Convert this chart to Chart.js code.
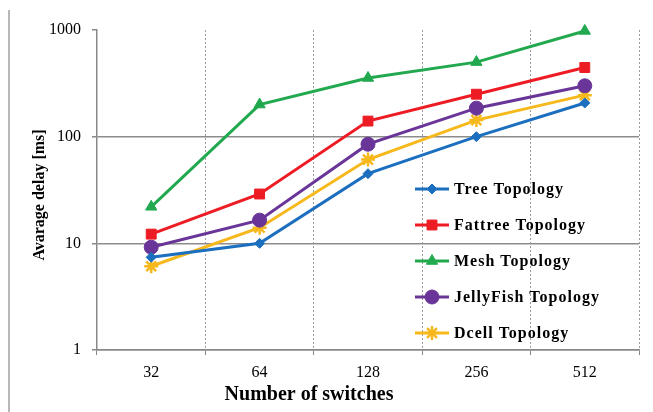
<!DOCTYPE html>
<html>
<head>
<meta charset="utf-8">
<script src="https://cdn.jsdelivr.net/npm/chart.js@4.4.0/dist/chart.umd.min.js"></script>
<style>
  html, body { margin: 0; padding: 0; background: #fff; }
  #wrap { position: relative; width: 653px; height: 412px; }
</style>
</head>
<body>
<div id="wrap"><canvas id="chart" width="653" height="412"></canvas></div>
<script>
// data
const switches = ['32', '64', '128', '256', '512'];
const treeDelay = [7.4, 10, 45, 100, 207];
const fattreeDelay = [12.2, 29, 140, 250, 445];
const meshDelay = [22, 200, 355, 500, 980];
const jellyfishDelay = [9.2, 16.5, 85, 185, 300];
const dcellDelay = [6.1, 14, 61, 143, 245];
const yTicks = [1, 10, 100, 1000];

const serif = "'Liberation Serif', 'Times New Roman', serif";

function series(label, data, color, style, radius) {
    return {
        label: label,
        data: data,
        borderColor: color,
        backgroundColor: color,
        pointBackgroundColor: color,
        pointBorderColor: color,
        pointStyle: style,
        pointRadius: radius,
        pointHoverRadius: radius,
        pointBorderWidth: style === 'star' ? 2.5 : 1,
        borderWidth: 3,
        tension: 0,
        clip: false
    };
}

// legend drawn inside the plot, plus axis titles and the left frame line
const extras = {
    id: 'extras',
    afterDraw(chart) {
        const ctx = chart.ctx;
        ctx.save();
        // frame line at left
        ctx.strokeStyle = '#a0a0a0';
        ctx.lineWidth = 1.5;
        ctx.beginPath();
        ctx.moveTo(9, 10);
        ctx.lineTo(9, 412);
        ctx.stroke();

        // axis titles
        ctx.fillStyle = '#000';
        ctx.font = 'bold 20px ' + serif;
        ctx.textAlign = 'center';
        ctx.textBaseline = 'middle';
        ctx.fillText('Number of switches', 309, 395);

        ctx.save();
        ctx.translate(40, 195);
        ctx.rotate(-Math.PI / 2);
        ctx.font = 'bold 16px ' + serif;
        ctx.fillText('Avarage delay [ms]', 0, 0);
        ctx.restore();

        // legend
        const x0 = 415, x1 = 449, rowTop = 189, rowGap = 36;
        chart.data.datasets.forEach((ds, i) => {
            const y = rowTop + i * rowGap;
            ctx.strokeStyle = ds.borderColor;
            ctx.lineWidth = 3;
            ctx.beginPath();
            ctx.moveTo(x0, y);
            ctx.lineTo(x1, y);
            ctx.stroke();
            ctx.fillStyle = ds.pointBackgroundColor;
            ctx.strokeStyle = ds.pointBorderColor;
            ctx.lineWidth = ds.pointBorderWidth;
            Chart.helpers.drawPoint(ctx, {
                pointStyle: ds.pointStyle,
                radius: ds.pointRadius,
                borderWidth: ds.pointBorderWidth,
                rotation: 0
            }, (x0 + x1) / 2, y);
            ctx.fillStyle = '#000';
            ctx.font = 'bold 16px ' + serif;
            ctx.letterSpacing = '1px';
            ctx.textAlign = 'left';
            ctx.textBaseline = 'middle';
            ctx.fillText(ds.label, 454, y + 1);
            ctx.letterSpacing = '0px';
        });
        ctx.restore();
    }
};

new Chart(document.getElementById('chart'), {
    type: 'line',
    data: {
        labels: switches,
        datasets: [
            series('Tree Topology', treeDelay, '#1b6fbe', 'rectRot', 5),
            series('Fattree Topology', fattreeDelay, '#ed1c24', 'rect', 7),
            series('Mesh Topology', meshDelay, '#22a94f', 'triangle', 6.5),
            series('JellyFish Topology', jellyfishDelay, '#6a3598', 'circle', 7),
            series('Dcell Topology', dcellDelay, '#f7b81c', 'star', 7)
        ]
    },
    options: {
        responsive: false,
        animation: false,
        layout: { padding: { left: 0, right: 14, top: 30, bottom: 0 } },
        plugins: {
            legend: { display: false },
            tooltip: { enabled: false }
        },
        scales: {
            x: {
                offset: true,
                afterFit(scale) { scale.height = 62; },
                border: { display: true, color: '#888', width: 1.5, dash: [2, 2] },
                grid: {
                    offset: true,
                    color: '#9a9a9a',
                    lineWidth: 1,
                    tickLength: 5,
                    tickColor: '#888'
                },
                ticks: {
                    color: '#000',
                    padding: 8,
                    font: { family: serif, size: 16 }
                }
            },
            y: {
                type: 'logarithmic',
                min: 1,
                max: 1000,
                afterFit(scale) { scale.width = 97; },
                afterBuildTicks(scale) {
                    scale.ticks = yTicks.map(v => ({ value: v }));
                },
                border: { display: true, color: '#888', width: 1.5 },
                grid: {
                    color: ctx => ctx.tick && ctx.tick.value === 1000 ? 'rgba(0,0,0,0)' : '#8c8c8c',
                    lineWidth: 1.5,
                    tickLength: 5,
                    tickColor: '#888'
                },
                ticks: {
                    color: '#000',
                    padding: 11,
                    font: { family: serif, size: 16 },
                    callback: v => String(v)
                }
            }
        }
    },
    plugins: [extras]
});
</script>
</body>
</html>
